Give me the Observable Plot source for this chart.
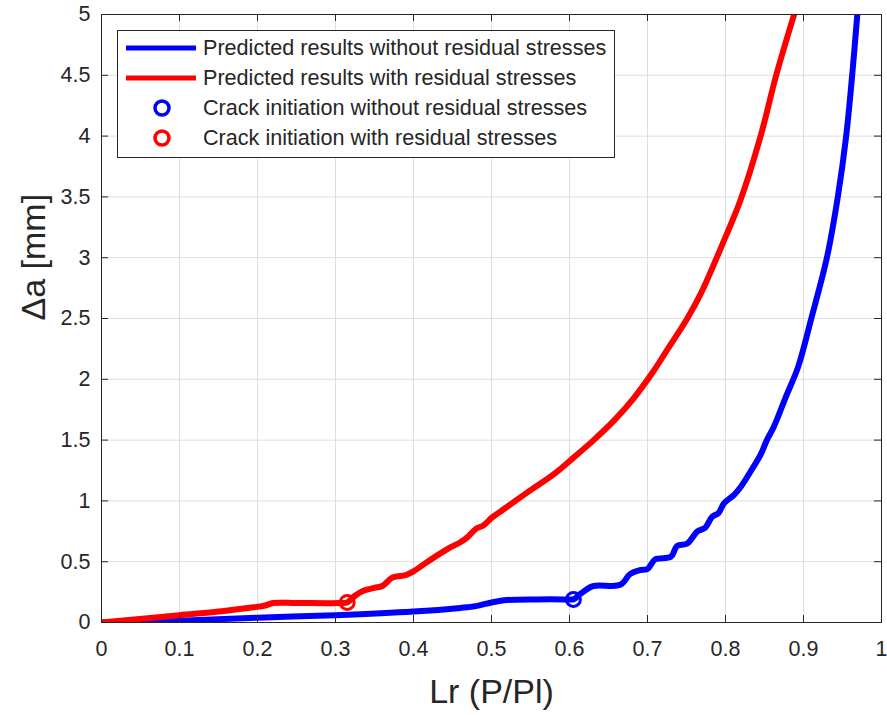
<!DOCTYPE html>
<html>
<head>
<meta charset="utf-8">
<script src="https://cdn.jsdelivr.net/npm/d3@7"></script>
<script src="https://cdn.jsdelivr.net/npm/@observablehq/plot@0.6"></script>
<style>
  html, body { margin: 0; padding: 0; background: #fff; }
  #wrap { position: relative; width: 887px; height: 715px; font-family: "Liberation Sans", Arial, sans-serif; }
  #legend { position: absolute; background: #fff; border: 1px solid #262626; box-sizing: border-box; }
  .row { position: absolute; left: 0; right: 0; height: 30px; line-height: 30px; font-size: 21.6px; color: #262626; white-space: nowrap; }
  .row svg { position: absolute; left: 0; top: 0; }
  .row span { position: absolute; }
</style>
</head>
<body>
<div id="wrap"></div>
<script>
// ---- data ----
const blueX = [0, 0.1, 0.2, 0.3, 0.4, 0.46, 0.48, 0.5, 0.52, 0.56, 0.6, 0.605, 0.615, 0.63, 0.665, 0.678, 0.69, 0.70, 0.71, 0.73, 0.738, 0.751, 0.764, 0.774, 0.783, 0.791, 0.798, 0.811, 0.819, 0.832, 0.845, 0.853, 0.862, 0.877, 0.893, 0.91, 0.930, 0.944, 0.9547, 0.9624, 0.969];
const blueY = [0, 0.015, 0.04, 0.06, 0.09, 0.12, 0.135, 0.165, 0.185, 0.19, 0.19, 0.19, 0.24, 0.30, 0.31, 0.40, 0.43, 0.44, 0.52, 0.54, 0.63, 0.65, 0.75, 0.78, 0.87, 0.90, 0.98, 1.05, 1.11, 1.24, 1.38, 1.50, 1.61, 1.85, 2.1, 2.5, 3.0, 3.5, 4.0, 4.5, 5.0];
const redX = [0, 0.1, 0.157, 0.195, 0.21, 0.22, 0.25, 0.306, 0.315, 0.325, 0.335, 0.35, 0.36, 0.373, 0.39, 0.40, 0.418, 0.445, 0.46, 0.469, 0.48, 0.49, 0.50, 0.511, 0.546, 0.58, 0.606, 0.631, 0.657, 0.683, 0.708, 0.725, 0.751, 0.768, 0.798, 0.819, 0.845, 0.865, 0.888];
const redY = [0, 0.06, 0.095, 0.125, 0.14, 0.16, 0.16, 0.16, 0.165, 0.22, 0.26, 0.285, 0.30, 0.37, 0.39, 0.42, 0.50, 0.61, 0.66, 0.70, 0.77, 0.80, 0.86, 0.91, 1.07, 1.22, 1.36, 1.50, 1.66, 1.85, 2.07, 2.24, 2.5, 2.70, 3.14, 3.47, 4.0, 4.5, 5.0];
const blueInit = [[0.605, 0.19]];
const redInit = [[0.315, 0.165]];
const xTicks = [0, 0.1, 0.2, 0.3, 0.4, 0.5, 0.6, 0.7, 0.8, 0.9, 1];
const yTicks = [0, 0.5, 1, 1.5, 2, 2.5, 3, 3.5, 4, 4.5, 5];
const xLabel = "Lr (P/Pl)";
const yLabel = "Δa [mm]";
const legendItems = [
  {label: "Predicted results without residual stresses", color: "#0000ff", kind: "line"},
  {label: "Predicted results with residual stresses", color: "#ff0000", kind: "line"},
  {label: "Crack initiation without residual stresses", color: "#0000ff", kind: "dot"},
  {label: "Crack initiation with residual stresses", color: "#ff0000", kind: "dot"}
];

// ---- layout ----
const W = 887, H = 715;
const mL = 101, mR = 6, mT = 14, mB = 93;
const fw = W - mL - mR, fh = H - mT - mB;
const tickLen = 7;
const ink = "#262626";

const blue = blueX.map((x, i) => ({x, y: blueY[i]}));
const red = redX.map((x, i) => ({x, y: redY[i]}));

const chart = Plot.plot({
  width: W, height: H,
  marginLeft: mL, marginRight: mR, marginTop: mT, marginBottom: mB,
  style: {fontFamily: '"Liberation Sans", Arial, sans-serif', background: "#fff", color: ink},
  x: {domain: [0, 1]},
  y: {domain: [0, 5]},
  marks: [
    Plot.gridX(xTicks, {stroke: "#dedede", strokeOpacity: 1}),
    Plot.gridY(yTicks, {stroke: "#dedede", strokeOpacity: 1}),
    Plot.line(blue, {x: "x", y: "y", stroke: "#0000ff", strokeWidth: 6, curve: "catmull-rom", clip: true}),
    Plot.line(red, {x: "x", y: "y", stroke: "#ff0000", strokeWidth: 6, curve: "catmull-rom", clip: true}),
    Plot.dot(blueInit, {x: d => d[0], y: d => d[1], r: 7, stroke: "#0000ff", strokeWidth: 3, fill: "none"}),
    Plot.dot(redInit, {x: d => d[0], y: d => d[1], r: 7, stroke: "#ff0000", strokeWidth: 3, fill: "none"}),
    Plot.tickX(xTicks, {x: d => d, insetTop: fh - tickLen, stroke: ink}),
    Plot.tickX(xTicks, {x: d => d, insetBottom: fh - tickLen, stroke: ink}),
    Plot.tickY(yTicks, {y: d => d, insetRight: fw - tickLen, stroke: ink}),
    Plot.tickY(yTicks, {y: d => d, insetLeft: fw - tickLen, stroke: ink}),
    Plot.frame({stroke: ink, strokeWidth: 1}),
    Plot.axisX(xTicks, {tickSize: 0, tickPadding: 18, fontSize: 21.5, fill: ink, tickFormat: d => String(d), label: null}),
    Plot.axisY(yTicks, {tickSize: 0, tickPadding: 11, fontSize: 21.5, fill: ink, tickFormat: d => String(d), label: null}),
    Plot.text([xLabel], {text: d => d, frameAnchor: "bottom", dy: 80, lineAnchor: "bottom", fontSize: 34, fill: ink}),
    Plot.text([yLabel], {text: d => d, frameAnchor: "left", rotate: -90, dx: -57, dy: 2, lineAnchor: "bottom", fontSize: 34, fill: ink})
  ]
});

const wrap = document.getElementById("wrap");
wrap.appendChild(chart);

// ---- legend ----
const leg = document.createElement("div");
leg.id = "legend";
Object.assign(leg.style, {left: "117px", top: "30px", width: "498px", height: "128px"});
legendItems.forEach((it, i) => {
  const row = document.createElement("div");
  row.className = "row";
  row.style.top = (2 + 30 * i) + "px";
  const svg = d3.create("svg").attr("width", 84).attr("height", 30);
  if (it.kind === "line") {
    svg.append("line").attr("x1", 8).attr("x2", 78).attr("y1", 15).attr("y2", 15)
      .attr("stroke", it.color).attr("stroke-width", 5);
  } else {
    svg.append("circle").attr("cx", 44).attr("cy", 15).attr("r", 7)
      .attr("fill", "none").attr("stroke", it.color).attr("stroke-width", 3.5);
  }
  row.appendChild(svg.node());
  const sp = document.createElement("span");
  sp.style.left = "85px";
  sp.textContent = it.label;
  row.appendChild(sp);
  leg.appendChild(row);
});
wrap.appendChild(leg);
</script>
</body>
</html>
